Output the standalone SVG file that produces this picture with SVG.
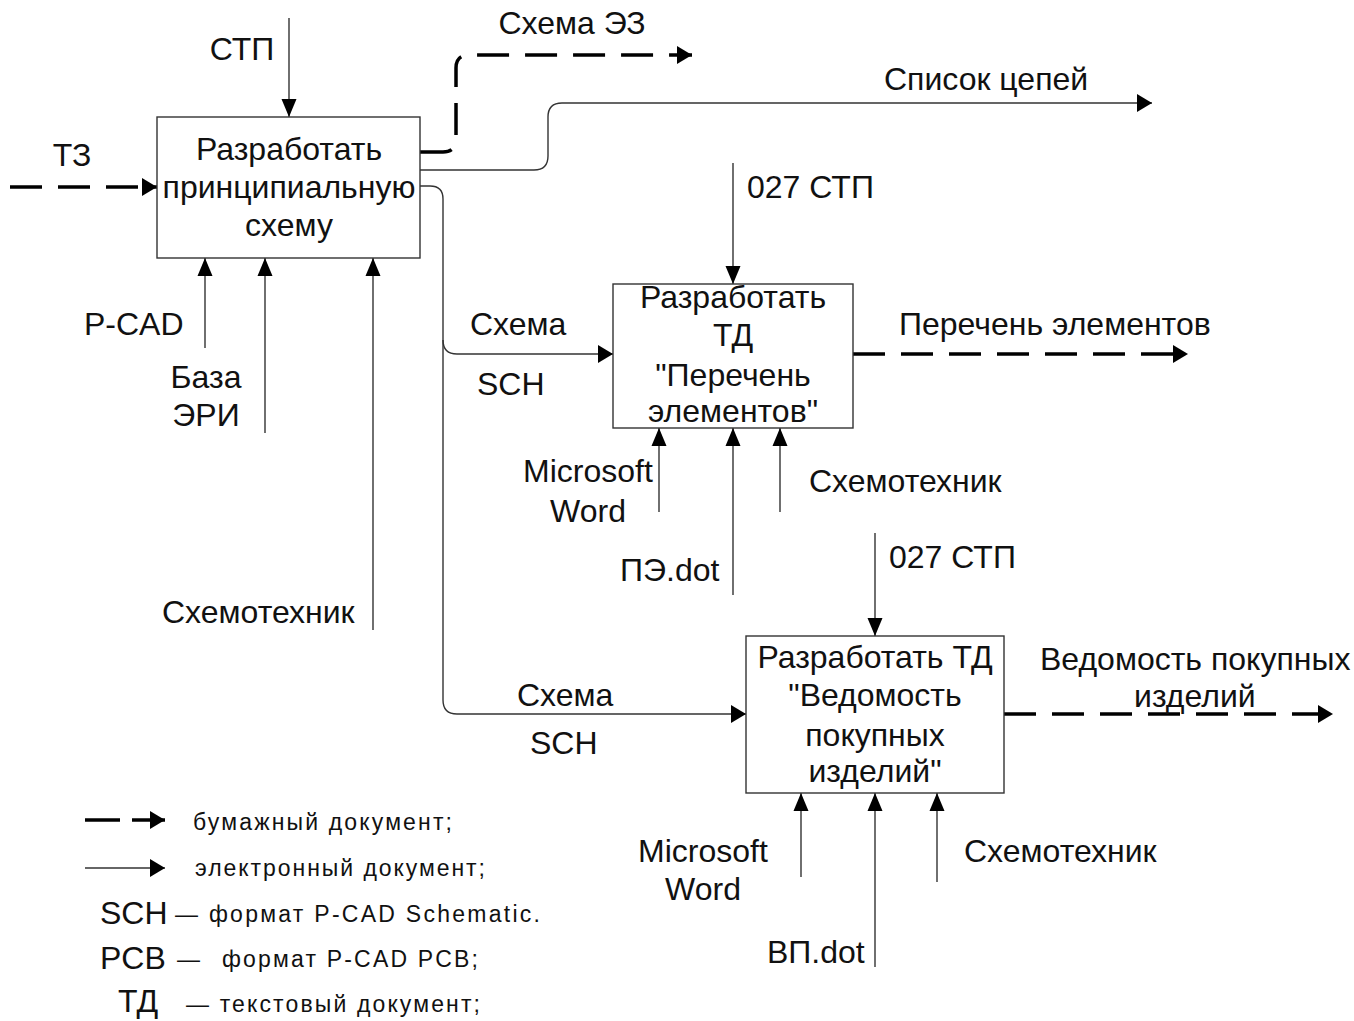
<svg xmlns="http://www.w3.org/2000/svg" width="1354" height="1021" viewBox="0 0 1354 1021">
  <style>
    text { font-family: "Liberation Sans", Arial, sans-serif; font-size: 32px; fill: #111; }
    .c { text-anchor: middle; }
    .lg { font-size: 23px; }
    .box { fill: #fff; stroke: #333; stroke-width: 1.4; }
    .ln { fill: none; stroke: #333; stroke-width: 1.4; }
    .pv { fill: none; stroke: #000; stroke-width: 3.5; stroke-dasharray: 32 16; }
    .lnv { marker-end: url(#arrV); }
    .lnh { marker-end: url(#arrH); }
  </style>
  <defs>
    <marker id="arrV" markerUnits="userSpaceOnUse" markerWidth="18" markerHeight="16" refX="18" refY="7.5" orient="auto" viewBox="0 0 18 15">
      <path d="M0,0 L18,7.5 L0,15 Z" fill="#000"/>
    </marker>
    <marker id="arrH" markerUnits="userSpaceOnUse" markerWidth="16" markerHeight="18" refX="15" refY="9" orient="auto" viewBox="0 0 15 18">
      <path d="M0,0 L15,9 L0,18 Z" fill="#000"/>
    </marker>
  </defs>

  <rect width="1354" height="1021" fill="#fff"/>

  <!-- connectors -->
  <g id="connectors">
    <!-- box 1 -->
    <path class="ln lnv" d="M289,18 V117"/>
    <path class="pv lnh" d="M10,187 H157" stroke-dasharray="32 16"/>
    <path class="pv lnh" d="M420,152 H443 Q456,152 456,139 V68 Q456,55 469,55 H692" stroke-dasharray="30 14"/>
    <path class="ln lnh" d="M420,170 H534 Q548,170 548,156 V117 Q548,103 562,103 H1152"/>
    <path class="ln lnh" d="M420,186 H430 Q443,186 443,199 V340 Q443,354 457,354 H613"/>
    <path class="ln lnh" d="M443,340 V700 Q443,714 457,714 H746"/>
    <path class="ln lnv" d="M205,348 V258"/>
    <path class="ln lnv" d="M265,433 V258"/>
    <path class="ln lnv" d="M373,630 V258"/>
    <!-- box 2 -->
    <path class="ln lnv" d="M733,163 V284"/>
    <path class="pv lnh" d="M853,354 H1188" stroke-dasharray="30 16"/>
    <path class="ln lnv" d="M659,512 V428"/>
    <path class="ln lnv" d="M733,595 V428"/>
    <path class="ln lnv" d="M780,512 V428"/>
    <!-- box 3 -->
    <path class="ln lnv" d="M875,533 V636"/>
    <path class="pv lnh" d="M1004,714 H1333" stroke-dasharray="30 16"/>
    <path class="ln lnv" d="M801,877 V793"/>
    <path class="ln lnv" d="M875,967 V793"/>
    <path class="ln lnv" d="M937,882 V793"/>
  </g>

  <!-- arrow labels -->
  <g id="labels">
    <text x="242" y="60" class="c">СТП</text>
    <text x="72" y="166" class="c">ТЗ</text>
    <text x="572" y="34" class="c">Схема ЭЗ</text>
    <text x="884" y="90">Список цепей</text>
    <text x="747" y="198">027 СТП</text>
    <text x="84" y="335">P-CAD</text>
    <text x="206" y="388" class="c">База</text>
    <text x="206" y="426" class="c">ЭРИ</text>
    <text x="162" y="623">Схемотехник</text>
    <text x="470" y="335">Схема</text>
    <text x="477" y="395">SCH</text>
    <text x="899" y="335">Перечень элементов</text>
    <text x="588" y="482" class="c">Microsoft</text>
    <text x="588" y="522" class="c">Word</text>
    <text x="620" y="581">ПЭ.dot</text>
    <text x="809" y="492">Схемотехник</text>
    <text x="889" y="568">027 СТП</text>
    <text x="517" y="706">Схема</text>
    <text x="530" y="754">SCH</text>
    <text x="1040" y="670">Ведомость покупных</text>
    <text x="1134" y="707">изделий</text>
    <text x="703" y="862" class="c">Microsoft</text>
    <text x="703" y="900" class="c">Word</text>
    <text x="964" y="862">Схемотехник</text>
    <text x="767" y="963">ВП.dot</text>
  </g>

  <!-- activity boxes -->
  <g id="node-scheme">
    <rect class="box" x="157" y="117" width="263" height="141"/>
    <text x="289" y="160" class="c">Разработать</text>
    <text x="289" y="198" class="c">принципиальную</text>
    <text x="289" y="236" class="c">схему</text>
  </g>
  <g id="node-pe">
    <rect class="box" x="613" y="284" width="240" height="144"/>
    <text x="733" y="308" class="c">Разработать</text>
    <text x="733" y="346" class="c">ТД</text>
    <text x="733" y="386" class="c">"Перечень</text>
    <text x="733" y="422" class="c">элементов"</text>
  </g>
  <g id="node-vp">
    <rect class="box" x="746" y="636" width="258" height="157"/>
    <text x="875" y="668" class="c">Разработать ТД</text>
    <text x="875" y="706" class="c">"Ведомость</text>
    <text x="875" y="746" class="c">покупных</text>
    <text x="875" y="782" class="c">изделий"</text>
  </g>

  <!-- legend -->
  <g id="legend">
    <path d="M85,820 H120" stroke="#000" stroke-width="3.5" fill="none"/>
    <path d="M132,820 H165" stroke="#000" stroke-width="3.5" fill="none" marker-end="url(#arrH)"/>
    <text x="193" y="830" class="lg" textLength="259" lengthAdjust="spacing">бумажный документ;</text>
    <path class="ln" d="M85,868 H165" marker-end="url(#arrH)"/>
    <text x="195" y="876" class="lg" textLength="290" lengthAdjust="spacing">электронный документ;</text>
    <text x="100" y="924" font-size="30">SCH</text>
    <text x="175" y="922" class="lg" textLength="365" lengthAdjust="spacing">— формат P-CAD Schematic.</text>
    <text x="100" y="969" font-size="30">PCB</text>
    <text x="177" y="967" class="lg">—</text>
    <text x="222" y="967" class="lg" textLength="256" lengthAdjust="spacing">формат P-CAD PCB;</text>
    <text x="118" y="1012" font-size="30">ТД</text>
    <text x="186" y="1012" class="lg" textLength="294" lengthAdjust="spacing">— текстовый документ;</text>
  </g>
</svg>
